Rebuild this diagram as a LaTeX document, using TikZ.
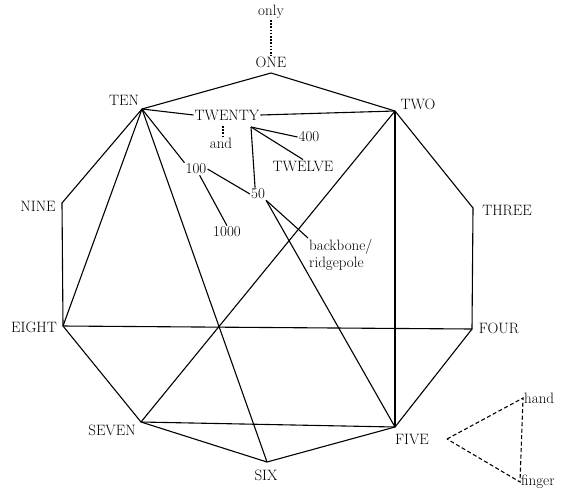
\documentclass[tikz,border=0pt]{standalone}
\usepackage{tikz}
\usetikzlibrary{positioning,calc}

\tikzset{
    word/.style={inner sep=1pt, font=\fontsize{15}{17}\selectfont},
    link/.style={line width=1.1pt},
    hint/.style={line width=1.1pt, dash pattern=on 1.6pt off 1.6pt},
    limb/.style={line width=1.1pt, dash pattern=on 4pt off 2.5pt}
}

\begin{document}
\begin{tikzpicture}[x=1pt,y=-1pt]
\useasboundingbox (0,0) rectangle (564,491);

% the ten corners
\coordinate (one) at (271,73);
\coordinate (two) at (395,111);
\coordinate (three) at (473,208);
\coordinate (four) at (472,329);
\coordinate (five) at (395,427);
\coordinate (six) at (267,462);
\coordinate (seven) at (141,422);
\coordinate (eight) at (63,326);
\coordinate (nine) at (62,203);
\coordinate (ten) at (142,109);

\node[word] at (271,12) (only) {only};
\node[word] at (271,62) (one-t) {ONE};
\node[word] at (418,104) (two-t) {TWO};
\node[word] at (507,210) (three-t) {THREE};
\node[word] at (499,328) (four-t) {FOUR};
\node[word] at (412,439) (five-t) {FIVE};
\node[word] at (266,475) (six-t) {SIX};
\node[word] at (112,430) (seven-t) {SEVEN};
\node[word] at (34,327) (eight-t) {EIGHT};
\node[word] at (38,206) (nine-t) {NINE};
\node[word] at (124,100) (ten-t) {TEN};

\node[word] at (227,115) (twenty) {TWENTY};
\node[word] at (221,143) (and) {and};
\node[word] at (309,137) (fourhundred) {400};
\node[word] at (303,166) (twelve) {TWELVE};
\node[word] at (196,169) (hundred) {100};
\node[word] at (258,194) (fifty) {50};
\node[word] at (227,232) (thousand) {1000};
\node[word, anchor=north west, align=left] at (308,238) (backbone) {backbone/\\ridgepole};
\coordinate (fork) at (251,127);

% outline
\draw[link] (one) -- (two) -- (three) -- (four) -- (five) -- (six)
    -- (seven) -- (eight) -- (nine) -- (ten) -- cycle;

% chords
\draw[link] (ten) -- (twenty.west);
\draw[link] (twenty.east) -- (two);
\draw[link] (two) -- (five);
\draw[link] (two) -- (seven);
\draw[link] (ten) -- (eight);
\draw[link] (ten) -- (six);
\draw[link] (eight) -- (four);
\draw[link] (seven) -- (five);

% inner branches
\draw[link] (ten) -- (hundred.north west);
\draw[link] (hundred.east) -- (fifty.west);
\draw[link] (hundred.-60) -- (thousand.north);
\draw[link] (fork) -- (fourhundred.west);
\draw[link] (fork) -- (twelve.north);
\draw[link] (fork) -- (fifty.115);
\draw[link] (fifty.south east) -- (backbone.north west);
\draw[link] (fifty.south east) -- (five);

% dotted ties
\draw[hint] (only) -- (one-t);
\draw[hint] (223,126) -- (and.north -| 223,0);

% hand and finger
\coordinate (tip) at (447,439);
\node[word, anchor=west] at (523,398) (hand) {hand};
\node[word, anchor=west] at (520,482) (finger) {finger};
\draw[limb] (tip) -- (hand.west) -- (finger.west) -- cycle;
\end{tikzpicture}
\end{document}
